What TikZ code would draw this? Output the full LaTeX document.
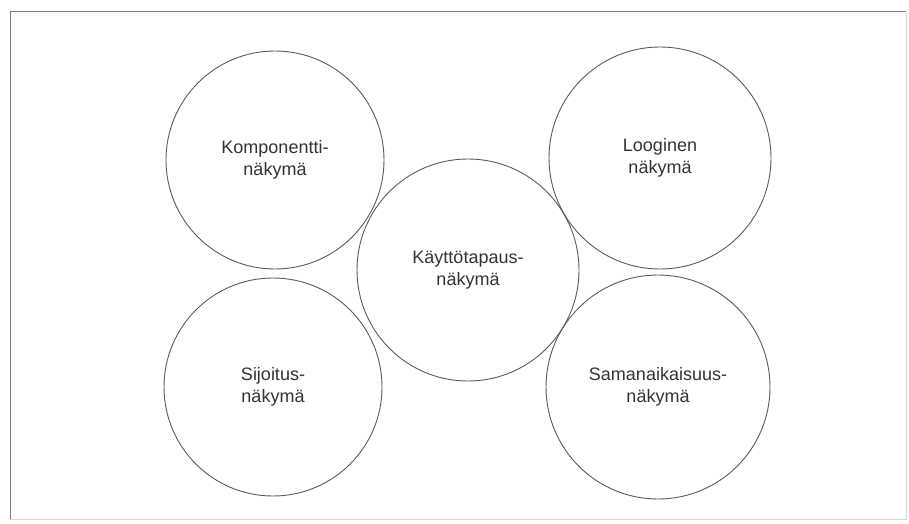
\documentclass[tikz,border=0pt]{standalone}
\usepackage{fontspec}
\setmainfont{Liberation Sans}
\definecolor{rim}{HTML}{5A5A5A}
\definecolor{ink}{HTML}{333333}
\begin{document}
\begin{tikzpicture}[x=1pt,y=-1pt,
  view/.style={circle,draw=rim,line width=0.9pt,minimum size=#1,inner sep=0pt,
    text=ink,align=center,font=\fontsize{18}{21.5}\selectfont},
  view/.default=218pt]
\useasboundingbox (0,0) rectangle (909,524);
% outer frame
\draw[rim!80,line width=1pt] (10,519) -- (10,12) -- (906,12);
\draw[rim!25,line width=0.8pt] (906,12) -- (906,519) -- (10,519);
% the five views
\node[view] (komp) at (275,160) {Komponentti-\\näkymä};
\node[view] (sijo) at (273,387) {Sijoitus-\\näkymä};
\node[view=222pt] (kayt) at (468,270) {Käyttötapaus-\\näkymä};
\node[view=222pt] (logi) at (660,158) {Looginen\\näkymä};
\node[view=224pt] (sama) at (658,387) {Samanaikaisuus-\\näkymä};
\end{tikzpicture}
\end{document}
